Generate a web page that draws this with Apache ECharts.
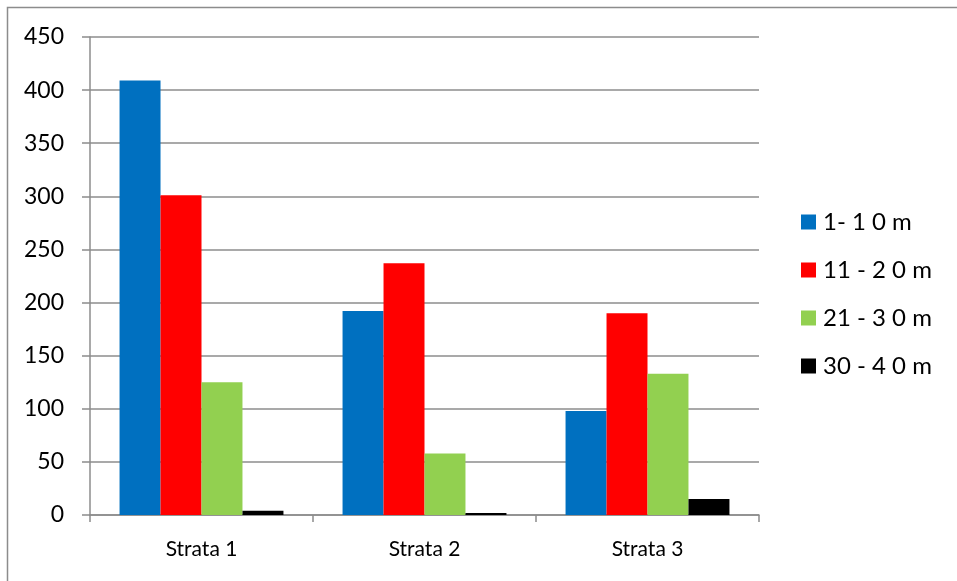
<!DOCTYPE html>
<html>
<head>
<meta charset="utf-8">
<script src="https://cdn.jsdelivr.net/npm/echarts@6/dist/echarts.min.js"></script>
<style>html,body{margin:0;padding:0;background:#fff}#c{width:957px;height:581px}</style>
</head>
<body>
<div id="c"></div>
<script>
const categories = ['Strata 1', 'Strata 2', 'Strata 3'];
const seriesNames = ['1- 1 0 m', '11 - 2 0 m', '21 - 3 0 m', '30 - 4 0 m'];
const s1 = [409, 192, 98];
const s2 = [301, 237, 190];
const s3 = [125, 58, 133];
const s4 = [4, 2, 15];
const colors = ['#0070C0', '#FF0000', '#92D050', '#000000'];
const yTicks = [0, 450, 50];

const FONT = 'Lato';
const chart = echarts.init(document.getElementById('c'));
const data = [s1, s2, s3, s4];
chart.setOption({
  animation: false,
  color: colors,
  graphic: [{
    type: 'rect', shape: {x: 7.5, y: 7.5, width: 1000, height: 1000},
    style: {fill: 'none', stroke: '#8c8c8c', lineWidth: 1.5}, silent: true
  }],
  grid: {left: 90, right: 198, top: 37, bottom: 66, containLabel: false},
  legend: {
    orient: 'vertical', left: 801, top: 210, padding: 0,
    itemWidth: 15, itemHeight: 15, itemGap: 24,
    icon: 'rect',
    textStyle: {fontFamily: FONT, fontSize: 24, color: '#000', padding: [0, 0, 0, 2]},
    data: seriesNames
  },
  xAxis: {
    type: 'category', data: categories,
    axisLine: {lineStyle: {color: '#8c8c8c', width: 1.5}},
    axisTick: {show: true, length: 7, lineStyle: {color: '#8c8c8c', width: 1.5}},
    axisLabel: {fontFamily: FONT, fontSize: 21, color: '#000', margin: 24}
  },
  yAxis: {
    type: 'value', min: yTicks[0], max: yTicks[1], interval: yTicks[2],
    axisLine: {show: true, lineStyle: {color: '#8c8c8c', width: 1.5}},
    axisTick: {show: true, length: 8, lineStyle: {color: '#8c8c8c', width: 1.5}},
    splitLine: {lineStyle: {color: '#8c8c8c', width: 1.5}},
    axisLabel: {fontFamily: FONT, fontSize: 23, color: '#000', margin: 26}
  },
  series: seriesNames.map((n, i) => ({
    name: n, type: 'bar', data: data[i],
    barGap: '0%', barCategoryGap: '26.5%',
    itemStyle: {color: colors[i]}
  }))
});
</script>
</body>
</html>
